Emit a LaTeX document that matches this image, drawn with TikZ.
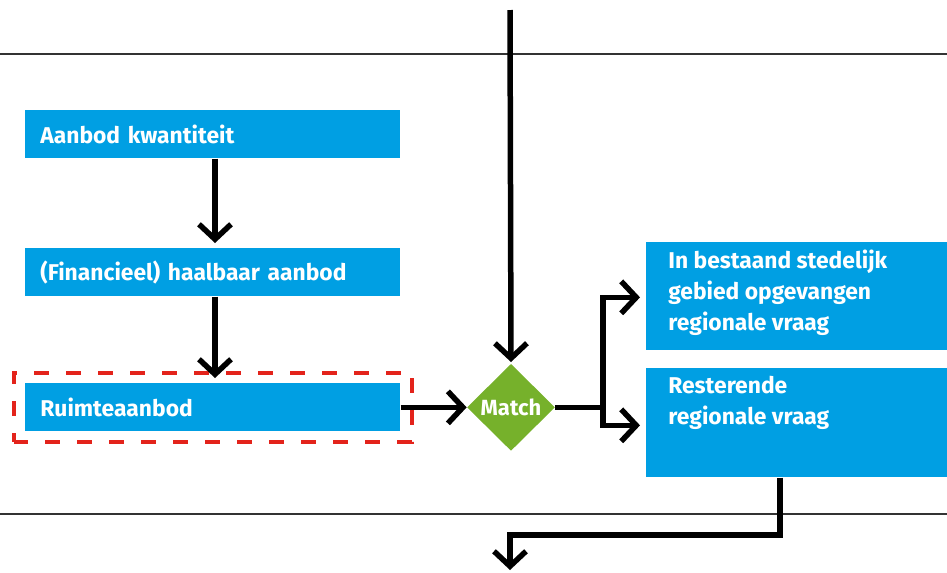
\documentclass[tikz,border=0pt]{standalone}
\usepackage{xcolor}
\usepackage{fontspec}
\setmainfont{Fira Sans}
\usepackage{tikz}
\usetikzlibrary{shapes.geometric}
\usetikzlibrary{arrows.meta}
\usetikzlibrary{fit}

\definecolor{blokblauw}{HTML}{009FE3}
\definecolor{matchgroen}{HTML}{76B12B}
\definecolor{kaderrood}{HTML}{E3231B}

\begin{document}
\begin{tikzpicture}[x=0.02cm, y=-0.02cm,
  blok/.style={rectangle, fill=blokblauw, text=white, font=\bfseries\fontsize{13}{17.6}\selectfont, text width=6.9cm, align=left, inner xsep=0.3cm, minimum height=0.96cm, anchor=north west},
  vraag/.style={rectangle, fill=blokblauw, text=white, font=\bfseries\fontsize{13}{17.6}\selectfont, inner xsep=0.44cm, inner ysep=0.16cm, minimum width=6.02cm, minimum height=2.16cm, anchor=north west},
  match/.style={diamond, fill=matchgroen, text=white, font=\bfseries\fontsize{12.5}{15}\selectfont, minimum width=1.76cm, minimum height=1.74cm, inner sep=0pt},
  kader/.style={draw=kaderrood, line width=0.08cm, dash pattern=on 0.3cm off 0.34cm, inner xsep=0.23cm, inner ysep=0.21cm},
  band/.style={draw=black!80, line width=0.03cm},
  line/.style={draw, line width=0.11cm, -{Straight Barb[length=0.3cm, width=0.64cm, sharp]}}]
\useasboundingbox (0,0) rectangle (947,572);

% horizontale banden
\path[band] (0,54) -- (947,54);
\path[band] (0,514) -- (947,514);

\node[blok] (kwantiteit) at (25,110) {Aanbod kwantiteit};
\node[blok] (haalbaar) at (25,248) {(Financieel) haalbaar aanbod};
\node[blok] (ruimte) at (25,383) {Ruimteaanbod};
\node[kader, fit=(ruimte)] (ruimtekader) {};

\node[match] (match) at (ruimte.east -| 511,0) {Match};

\node[vraag] (opgevangen) at (646,242) {\parbox[c][1.84cm][t]{5.14cm}{\raggedright In bestaand stedelijk\\gebied opgevangen\\regionale vraag}};
\node[vraag, minimum height=2.18cm] (rest) at (646,368) {\parbox[c][1.86cm][t]{5.14cm}{\raggedright Resterende\\regionale vraag}};

\coordinate (boven) at (510,10);
\coordinate (splits) at (603,0 |- match);
\coordinate (knik) at (780,535);
\coordinate (uit) at (510,572);

\begin{scope}[every path/.style=line]
\path (kwantiteit.south -| 215,0) -- ([yshift=0.1cm]haalbaar.north -| 215,0);
\path (haalbaar.south -| 215,0) -- ([yshift=0.1cm]ruimte.north -| 215,0);
\path (ruimte.east) -- (match.west);
\path (boven) -- ([yshift=0.03cm]match.north);
\path[-] (match.east) -- (splits);
\path (splits) |- ([xshift=-0.12cm,yshift=-0.02cm]opgevangen.west);
\path (splits) |- ([xshift=-0.12cm,yshift=-0.05cm]rest.west);
\path (rest.south -| knik) -- (knik) -| ([yshift=0.04cm]uit);
\end{scope}
\end{tikzpicture}
\end{document}
